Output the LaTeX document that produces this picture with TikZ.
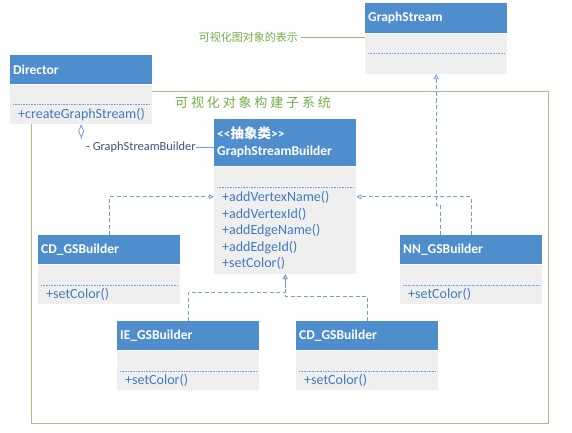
\documentclass[tikz,border=0pt]{standalone}
\usepackage{fontspec}
\setmainfont{Carlito}
\newfontfamily\cjk{Noto Sans CJK SC}
\newfontfamily\cjkwide[LetterSpace=22]{Noto Sans CJK SC}
\usetikzlibrary{positioning,arrows.meta,calc}

\definecolor{hdrblue}{RGB}{79,142,205}
\definecolor{boxgray}{RGB}{239,239,239}
\definecolor{txtblue}{RGB}{62,122,192}
\definecolor{lineblue}{RGB}{110,160,220}
\definecolor{framegreen}{RGB}{150,200,130}
\definecolor{notegreen}{RGB}{112,173,71}
\definecolor{rolecol}{RGB}{55,85,130}

% one UML class: name, top left corner, title, header height, operations, operations height
\newcommand{\umlclass}[6]{%
  \node[hdr, minimum height=#4] (#1) at (#2) {#3};
  \node[attr, below=0pt of #1] (#1-a) {};
  \node[ops, below=0pt of #1-a, minimum height=#6] (#1-o) {#5};
  \draw[sep] ($(#1-a.south west)+(3,0)$) -- ($(#1-a.south east)+(-3,0)$);
}

\begin{document}
\begin{tikzpicture}[x=1pt,y=-1pt,
    hdr/.style={fill=hdrblue, text=white, font=\bfseries\fontsize{13.5}{17}\selectfont,
      minimum width=142pt, text width=136pt, inner xsep=3pt, inner ysep=0pt,
      align=left, anchor=north west},
    attr/.style={fill=boxgray, minimum width=142pt, minimum height=20pt, inner sep=0pt},
    ops/.style={fill=boxgray, text=txtblue, font=\fontsize{14}{16.5}\selectfont,
      minimum width=142pt, text width=126pt, inner xsep=8pt, inner ysep=0pt, align=left},
    sep/.style={lineblue, densely dotted, line width=0.6pt},
    realize/.style={lineblue, dash pattern=on 4pt off 2.5pt, line width=0.8pt,
      -{Triangle[open,length=5pt,width=5pt]}},
    frame/.style={framegreen, line width=0.9pt},
    note/.style={text=notegreen, font=\cjk\fontsize{11}{11}\selectfont, inner sep=0pt}]
  \useasboundingbox (0,0) rectangle (572,433);

  % subsystem frame
  \draw[frame] (31,91) rectangle (548,423);
  \node[note, font=\cjkwide\fontsize{13}{13}\selectfont, anchor=west] (sysname) at (175,103) {可视化对象构建子系统};

  % classes
  \umlclass{gs}{365,3}{GraphStream}{30pt}{}{20pt}
  \umlclass{dir}{10,55}{Director}{29pt}{+createGraphStream()}{19pt}
  \umlclass{gsb}{214,119}{<{}<{\cjk 抽象类}>{}>\\GraphStreamBuilder}{47pt}%
    {+addVertexName()\\+addVertexId()\\+addEdgeName()\\+addEdgeId()\\+setColor()}{87pt}
  \foreach \n/\x/\y/\t in {cd1/38/235/CD\_GSBuilder, nn/400/235/NN\_GSBuilder,
                          ie/117/321/IE\_GSBuilder, cd2/296/321/CD\_GSBuilder} {
    \umlclass{\n}{\x,\y}{\t}{29pt}{+setColor()}{19pt}
  }

  % note on GraphStream
  \node[note, anchor=east] (gsnote) at (298,37) {可视化图对象的表示};
  \draw[notegreen!80, line width=0.8pt] (gsnote.east) ++(3,0) -- (gsnote.east -| gs-a.west);

  % aggregation
  \draw[lineblue, line width=0.8pt, -{Diamond[open,length=14pt,width=6pt]}]
    ($(dir-o.south)+(0,15)$) -- (dir-o.south);
  \node[text=rolecol, font=\fontsize{12.4}{12.4}\selectfont, inner sep=0pt, anchor=west]
    (role) at (86,147) {- GraphStreamBuilder};
  \draw[lineblue, line width=0.8pt] (role.east) -- (role.east -| gsb.west);

  % realizations
  \draw[realize] (cd1.north) |- ($(gsb-o.north west)+(0,10)$);
  \draw[realize] (nn.north) |- ($(gsb-o.north east)+(0,10)$);
  \draw[realize] ($(nn.north)+(-31,0)$) -- ++(0,-30) -| (gs-o.south);
  \draw[realize] (ie.north) -- ++(0,-29) -| (gsb-o.south);
  \draw[realize] (cd2.north) -- ++(0,-25) -| (gsb-o.south);
\end{tikzpicture}
\end{document}
